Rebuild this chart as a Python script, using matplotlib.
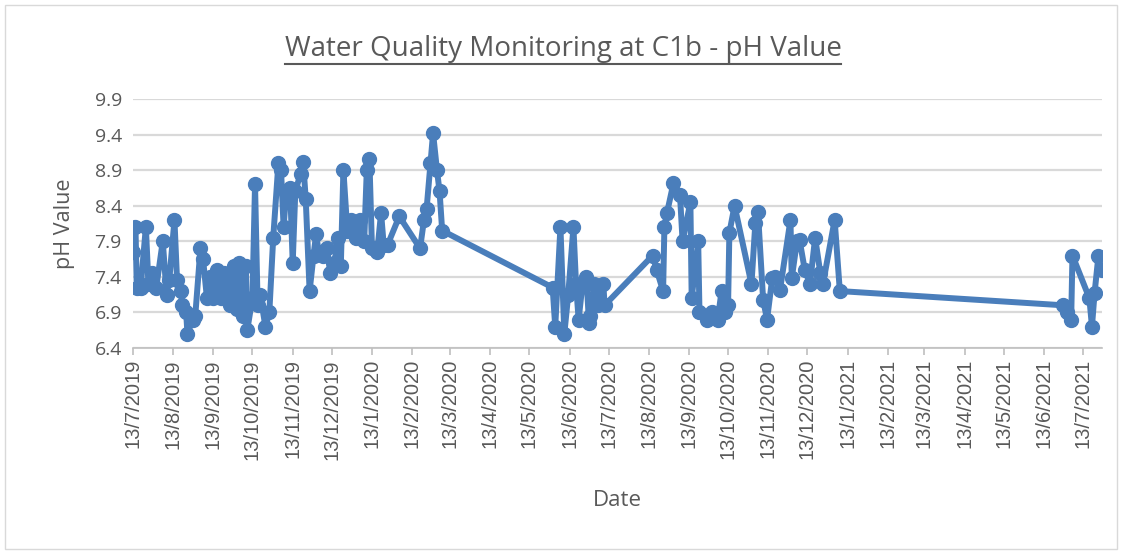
import matplotlib
matplotlib.use("Agg")
import matplotlib.pyplot as plt
import matplotlib.dates as mdates
from matplotlib.patches import Rectangle
from matplotlib.lines import Line2D
import pandas as pd

# sampling days counted from the first sample (13/7/2019)
start_date = "2019-07-13"
days_since_start = [
    0, 2, 3, 6, 10, 12, 15, 18, 23, 26, 28, 32, 34, 37, 38, 41, 42, 46, 48, 52,
    54, 57, 59, 62, 65, 68, 70, 72, 75, 78, 80, 82, 85, 87, 88, 92, 94, 96, 98, 102,
    105, 108, 112, 114, 116, 118, 121, 123, 125, 129, 131, 133, 136, 139, 141, 143, 146, 149, 152, 155,
    158, 160, 162, 165, 168, 172, 175, 178, 180, 182, 184, 186, 188, 191, 193, 196, 205, 221, 224, 226,
    229, 231, 234, 236, 238,
    323, 325, 329, 332, 335, 339, 341, 343, 346, 349, 351, 352, 355, 358, 362, 363,
    400, 403, 408, 409, 411, 416, 421, 423, 429, 430, 435, 436, 442, 446, 450, 453, 456, 458, 459, 463,
    476, 479, 481, 485, 488, 492, 494, 498, 506, 507, 511, 513, 517, 521, 525, 529, 531, 540, 544,
    716, 719, 722, 723, 736, 738, 740, 743, 746,
]
ph_values = [
    7.75, 8.1, 7.25, 7.25, 8.1, 7.3, 7.45, 7.25, 7.9, 7.15, 7.35, 8.2, 7.35, 7.2, 7.0, 6.9, 6.6, 6.8, 6.85, 7.8,
    7.65, 7.1, 7.4, 7.1, 7.5, 7.1, 7.45, 7.3, 7.0, 7.55, 6.95, 7.6, 6.85, 7.55, 6.65, 7.1, 8.7, 7.0, 7.15, 6.7,
    6.9, 7.95, 9.0, 8.9, 8.1, 8.6, 8.65, 7.6, 8.6, 8.85, 9.02, 8.5, 7.2, 7.7, 8.0, 7.75, 7.7, 7.8, 7.45, 7.6,
    7.95, 7.55, 8.9, 8.05, 8.2, 7.95, 8.2, 7.9, 8.9, 9.05, 7.8, 7.8, 7.75, 8.3, 7.85, 7.85, 8.25, 7.8, 8.2, 8.35,
    9.0, 9.42, 8.9, 8.6, 8.05,
    7.25, 6.7, 8.1, 6.6, 7.15, 8.1, 7.3, 6.8, 7.3, 7.4, 6.75, 6.85, 7.3, 7.0, 7.3, 7.0,
    7.7, 7.5, 7.2, 8.1, 8.3, 8.72, 8.55, 7.9, 8.45, 7.1, 7.9, 6.9, 6.8, 6.9, 6.8, 7.2, 6.9, 7.0, 8.02, 8.4,
    7.3, 8.16, 8.31, 7.07, 6.8, 7.38, 7.4, 7.22, 8.2, 7.38, 7.9, 7.92, 7.5, 7.3, 7.95, 7.45, 7.3, 8.2, 7.2,
    7.0, 6.9, 6.8, 7.7, 7.1, 6.7, 7.17, 7.7, 7.5,
]
y_ticks = [6.4, 6.9, 7.4, 7.9, 8.4, 8.9, 9.4, 9.9]

dates = pd.Timestamp(start_date) + pd.to_timedelta(days_since_start, unit="D")
tick_dates = pd.date_range("2019-07-01", "2021-07-01", freq="MS") + pd.Timedelta(days=12)

grey = "#595959"
blue = "#4a7ebb"

fig = plt.figure(figsize=(11.26, 5.52), dpi=100)
fig.patches.append(Rectangle((0.004, 0.006), 0.988, 0.985, transform=fig.transFigure,
                             fill=False, edgecolor="#d9d9d9", linewidth=1))

ax = fig.add_axes([0.118, 0.3696, 0.861, 0.451])
ax.plot(dates, ph_values, color=blue, linewidth=4.3, marker="o", markersize=10,
        markerfacecolor=blue, markeredgecolor=blue, solid_joinstyle="round")

ax.set_ylim(6.4, 9.9)
ax.set_yticks(y_ticks)
ax.set_yticklabels([f"{v:.1f}" for v in y_ticks], family="Open Sans", fontsize=14, color=grey)
ax.set_xlim(dates[0], dates[-1])
ax.set_xticks(tick_dates)
ax.xaxis.set_major_formatter(mdates.DateFormatter("%-d/%-m/%Y"))
for lbl in ax.get_xticklabels():
    lbl.set_rotation(90)
    lbl.set_fontsize(14.5)
    lbl.set_color(grey)
    lbl.set_family("Liberation Sans")

ax.grid(axis="y", color="#d9d9d9", linewidth=1.6)
ax.set_axisbelow(True)
for side in ["top", "right", "left"]:
    ax.spines[side].set_visible(False)
ax.spines["bottom"].set_color("#bfbfbf")
ax.spines["bottom"].set_linewidth(1.2)
ax.tick_params(axis="y", length=0, pad=8)
ax.tick_params(axis="x", length=5, color="#bfbfbf", width=1.2, pad=3)

ax.set_xlabel("Date", family="Open Sans", fontsize=16, color=grey, labelpad=22)
ax.set_ylabel("pH Value", family="Open Sans", fontsize=15.5, color=grey, labelpad=14)

title = fig.text(0.5, 0.912, "Water Quality Monitoring at C1b - pH Value", ha="center", va="center",
                 family="Open Sans", fontsize=20, color=grey)

# underline the title like the original
fig.canvas.draw()
bb = title.get_window_extent().transformed(fig.transFigure.inverted())
fig.lines.append(Line2D([bb.x0, bb.x1], [bb.y0 - 0.003, bb.y0 - 0.003], transform=fig.transFigure,
                        color=grey, linewidth=1.5))

fig.savefig("out.png", dpi=100)
